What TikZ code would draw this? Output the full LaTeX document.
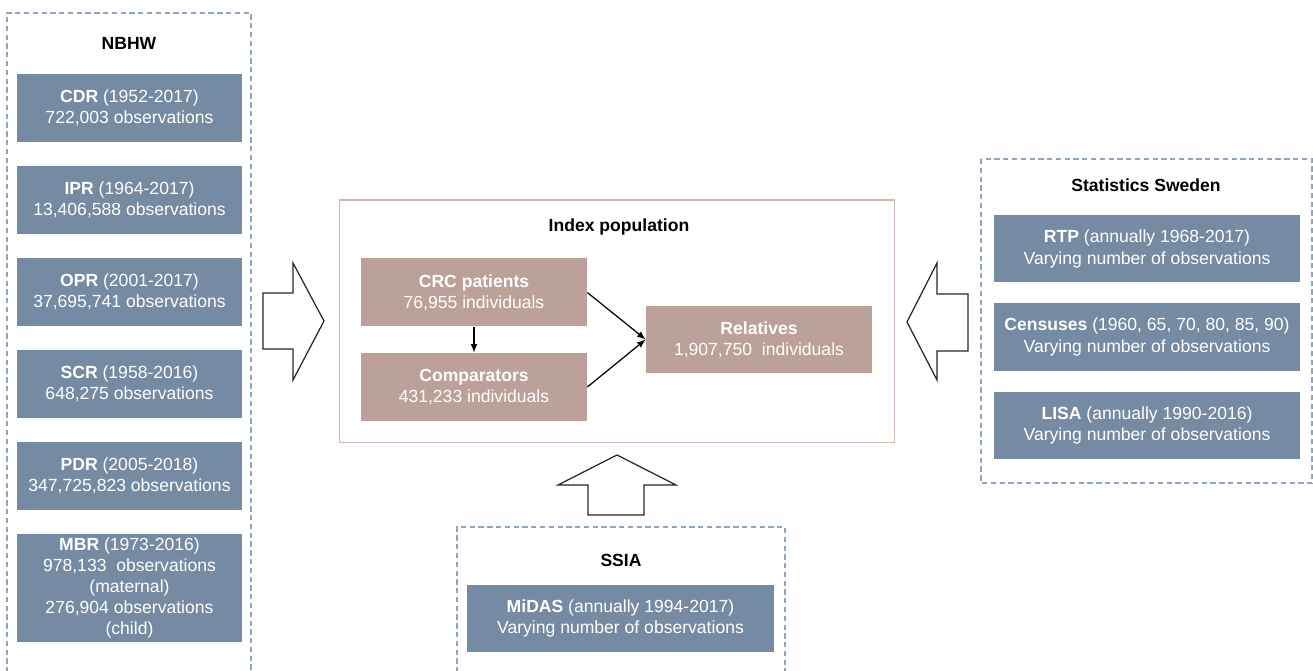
\documentclass[tikz,border=0pt]{standalone}
\usepackage{fontspec}
\setmainfont{Liberation Sans}
\usepackage{tikz}

\definecolor{regblue}{RGB}{116,139,163}
\definecolor{poprose}{RGB}{188,160,154}
\definecolor{dashblue}{RGB}{140,165,192}
\definecolor{roseline}{RGB}{210,182,176}

\begin{document}
\begin{tikzpicture}[x=0.02cm,y=-0.02cm]
\tikzset{
    register/.style={fill=regblue,text=white,align=center,minimum width=4.5cm,minimum height=1.36cm,
        inner sep=0pt,font=\fontsize{10}{12}\selectfont},
    popbox/.style={register,fill=poprose,minimum width=4.52cm},
    source/.style={draw=dashblue,line width=0.6pt,dash pattern=on 3pt off 2pt},
    heading/.style={font=\fontsize{10}{12}\selectfont\bfseries},
    blockarrow/.style={draw=black!85,line width=0.7pt,line join=miter}
}
\useasboundingbox (0,0) rectangle (1313,671);
\clip (0,0) rectangle (1313,671);
% NBHW registers
\draw[source] (7,690) |- (251,13) -- (251,690);
\node[heading] (nbhw) at (129,43){NBHW};
\node[register] (cdr) at (129.5,108){\textbf{CDR} (1952-2017)\\722,003 observations};
\node[register] (ipr) at (129.5,200){\textbf{IPR} (1964-2017)\\13,406,588 observations};
\node[register] (opr) at (129.5,292){\textbf{OPR} (2001-2017)\\37,695,741 observations};
\node[register] (scr) at (129.5,384){\textbf{SCR} (1958-2016)\\648,275 observations};
\node[register] (pdr) at (129.5,476){\textbf{PDR} (2005-2018)\\347,725,823 observations};
\node[register,minimum height=2.16cm] (mbr) at (129.5,588){\textbf{MBR} (1973-2016)\\978,133\ \ observations\\(maternal)\\276,904 observations\\(child)};
% Index population
\node[draw=roseline,line width=0.6pt,minimum width=11.12cm,minimum height=4.86cm] (index) at (617,321.5){};
\node[heading] (indextitle) at (619,227){Index population};
\node[popbox] (crc) at (474,292.5){\textbf{CRC patients}\\76,955 individuals};
\node[popbox] (comp) at (474,387){\textbf{Comparators}\\431,233 individuals};
\node[popbox,minimum height=1.34cm] (rel) at (759,339.5){\textbf{Relatives}\\1,907,750\ \ individuals};
\draw[-latex,line width=0.7pt](crc.south)--(comp.north);
\draw[-latex,line width=0.7pt](crc.east)--(rel.west);
\draw[-latex,line width=0.7pt](comp.east)--(rel.west);
% Statistics Sweden
\draw[source] (981,159) rectangle (1312,483);
\node[heading] (scb) at (1146,185){Statistics Sweden};
\node[register,minimum width=6.12cm,minimum height=1.34cm] (rtp) at (1147,249){\textbf{RTP} (annually 1968-2017)\\Varying number of observations};
\node[register,minimum width=6.12cm] (census) at (1147,337){\textbf{Censuses} (1960, 65, 70, 80, 85, 90)\\Varying number of observations};
\node[register,minimum width=6.12cm,minimum height=1.34cm] (lisa) at (1147,425.5){\textbf{LISA} (annually 1990-2016)\\Varying number of observations};
% SSIA
\draw[source] (457,690) |- (785,527) -- (785,690);
\node[heading] (ssia) at (621,560){SSIA};
\node[register,minimum width=6.14cm,minimum height=1.34cm] (midas) at (620.5,618.5){\textbf{MiDAS} (annually 1994-2017)\\Varying number of observations};
% block arrows
\draw[blockarrow] (263,293)--(293,293)--(293,263)--(324,321)--(293,380)--(293,349)--(263,349)--cycle;
\draw[blockarrow] (968,294)--(937,294)--(937,263)--(907,322)--(937,380)--(937,351)--(968,351)--cycle;
\draw[blockarrow] (588,515)--(588,485)--(558,485)--(617,455)--(676,485)--(644,485)--(644,515)--cycle;
\end{tikzpicture}
\end{document}
